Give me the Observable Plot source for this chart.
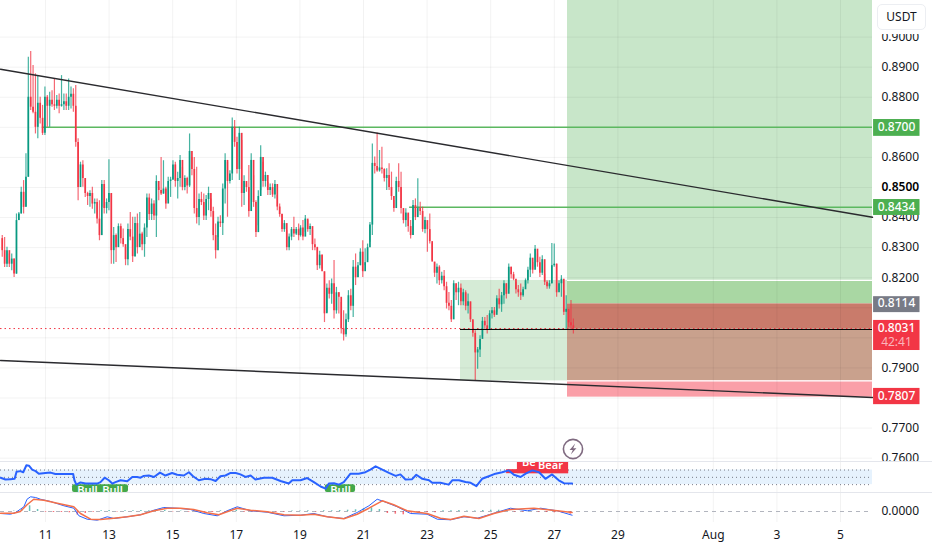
<!DOCTYPE html>
<html><head><meta charset="utf-8">
<script src="https://cdn.jsdelivr.net/npm/d3@7"></script>
<script src="https://cdn.jsdelivr.net/npm/@observablehq/plot@0.6"></script>
<style>
html,body{margin:0;background:#fff}
#c{position:relative;width:932px;height:550px;overflow:hidden;background:#fff;font-family:"Noto Sans",sans-serif}
#c svg.p{position:absolute;left:0}
.sep{position:absolute;left:0;width:932px;height:1px;background:#e4e6ec}
#cover{position:absolute;left:873px;top:0;width:59px;height:34px;background:#fff}
#usdt{position:absolute;left:877px;top:4px;width:47px;height:24px;line-height:24px;text-align:center;border:1px solid #eceef2;border-radius:5px;background:#fff;font-size:12px;color:#131722}
#bolt{position:absolute;left:562px;top:438px}
</style></head><body><div id="c"></div>
<script>
// Candles: [high, low, close] in 1/10000 USDT
const candlesEarly=[[8340,8268,8290],[8334,8234,8245],[8301,8234,8290],[8279,8234,8245],[8279,8223,8262],[8262,8201,8212],[8412,8212,8390],[8417,8390,8412],[8501,8412,8484],[8523,8412,8434],[8612,8434,8534],[8933,8534,8800],[8952,8756,8767],[8906,8745,8750],[8878,8678,8700],[8872,8662,8780],[8800,8711,8730],[8773,8673,8680],[8834,8673,8800],[8806,8700,8770],[8817,8700,8790],[8822,8767,8775],[8861,8756,8770],[8806,8761,8790],[8811,8745,8770],[8872,8767,8775],[8811,8756,8785],[8811,8756,8770],[8861,8756,8800],[8834,8761,8810],[8828,8750,8770],[8839,8634,8650],[8662,8456,8500],[8584,8528,8575],[8589,8501,8530],[8528,8467,8480],[8484,8440,8470],[8489,8434,8480],[8501,8428,8445],[8462,8412,8450],[8462,8379,8395],[8456,8323,8340],[8523,8434,8510],[8523,8412,8430],[8462,8412,8450],[8592,8423,8480],[8478,8245,8290],[8367,8245,8340],[8345,8251,8300],[8379,8301,8370],[8379,8312,8330],[8362,8301,8310],[8301,8240,8260],[8379,8240,8360],[8417,8323,8335],[8401,8251,8270],[8401,8268,8380],[8412,8279,8300],[8417,8323,8345],[8351,8290,8310],[8379,8268,8365],[8478,8334,8465],[8478,8390,8410],[8462,8390,8445],[8456,8390,8405],[8539,8334,8520],[8501,8456,8490],[8600,8473,8478],[8589,8478,8495],[8501,8428,8445],[8534,8456,8520],[8534,8467,8525],[8589,8523,8575],[8584,8501,8520],[8551,8462,8530],[8606,8501,8590],[8567,8489,8500],[8539,8489,8530],[8534,8478,8505],[8678,8500,8620],[8600,8539,8560],[8600,8412,8430],[8567,8379,8400],[8478,8373,8460],[8484,8440,8450],[8478,8390,8405],[8473,8390,8460],[8501,8423,8480],[8462,8401,8420],[8434,8323,8340],[8379,8262,8290],[8401,8334,8385],[8406,8367,8380],[8512,8340,8495],[8612,8445,8590],[8584,8401,8520],[8556,8512,8545],[8731,8523,8700],[8723,8634,8650],[8667,8545,8560],[8700,8523,8680],[8656,8434,8480],[8539,8440,8520],[8512,8484,8500],[8573,8401,8420],[8612,8523,8590],[8539,8434,8450],[8456,8334,8350],[8489,8373,8470],[8639,8489,8600],[8584,8501,8520],[8551,8501,8540],[8517,8473,8490],[8512,8473,8500],[8512,8467,8475],[8523,8462,8510],[8473,8423,8435],[8445,8401,8410],[8412,8351,8360],[8390,8351,8380],[8356,8290,8300],[8345,8290,8335],[8367,8323,8360],[8401,8334,8345],[8367,8340,8360],[8379,8323,8340]];
const candlesLate=[[8373,8335,8365],[8390,8323,8335],[8407,8351,8395],[8390,8351,8360],[8379,8340,8370],[8357,8290,8310],[8329,8290,8300],[8301,8224,8240],[8288,8229,8275],[8276,8229,8220],[8218,8051,8080],[8179,8085,8165],[8190,8129,8145],[8196,8112,8180],[8257,8063,8090],[8168,8079,8150],[8151,8079,8135],[8118,8013,8030],[8090,7990,8010],[8079,8002,8060],[8157,8051,8140],[8162,8090,8105],[8257,8068,8235],[8279,8174,8200],[8251,8201,8240],[8296,8240,8285],[8323,8201,8220],[8296,8240,8250],[8312,8257,8300],[8384,8318,8375],[8645,8340,8580],[8601,8545,8570],[8681,8551,8555],[8623,8551,8565],[8634,8545,8560],[8562,8518,8530],[8562,8490,8540],[8579,8490,8500],[8551,8457,8470],[8457,8418,8430],[8534,8468,8520],[8579,8484,8500],[8551,8412,8430],[8418,8379,8390],[8429,8368,8415],[8412,8351,8370],[8390,8329,8340],[8457,8340,8440],[8462,8390,8400],[8529,8429,8430],[8451,8407,8420],[8434,8351,8360],[8401,8346,8390],[8379,8285,8360],[8412,8312,8320],[8312,8257,8252],[8251,8201,8215],[8246,8179,8235],[8240,8174,8190],[8218,8179,8205],[8224,8157,8170],[8185,8096,8115],[8151,8090,8105],[8124,8051,8060],[8190,8140,8180],[8179,8124,8150],[8185,8107,8165],[8179,8107,8120],[8162,8107,8150],[8157,8090,8105],[8146,8079,8120],[8118,8051,8060],[8057,8002,8015],[8024,7857,7950],[7968,7896,7960],[8007,7935,7995],[8068,8002,8055],[8068,8029,8040],[8074,8013,8025],[8090,8057,8080],[8101,8063,8090],[8101,8068,8075],[8140,8085,8130],[8162,8096,8110],[8151,8085,8140],[8190,8112,8180],[8179,8129,8145],[8246,8162,8235],[8235,8196,8210],[8218,8190,8195],[8185,8146,8160],[8174,8135,8150],[8179,8124,8140],[8168,8135,8160],[8196,8174,8190],[8235,8179,8225],[8279,8201,8265],[8251,8212,8225],[8307,8235,8295],[8279,8235,8250],[8268,8201,8215],[8273,8207,8260],[8212,8174,8185],[8190,8162,8170],[8190,8162,8180],[8314,8179,8240],[8312,8235,8245],[8246,8135,8150],[8190,8157,8180],[8207,8135,8195],[8157,8074,8085],[8140,8029,8095],[8090,8035,8050],[8124,8029,8040],[8063,8013,8031]];
const firstOpen=8330;
const earlySpan=[9.64,18.96], lateSpan=[19.02,27.6];

const priceTicks=[.90,.89,.88,.87,.86,.85,.84,.83,.82,.81,.80,.79,.78,.77,.76];
const priceLabelTicks=[.90,.89,.88,.86,.84,.83,.82,.79,.77,.76];
const dayTicks=[11,13,15,17,19,21,23,25,27,29,32,34,36];
const dayLabels=["11","13","15","17","19","21","23","25","27","29","Aug","3","5"];

const xDomain=[9.585,37.006], priceDomain=[.7589,.91217];
const entryDay=24.05, positionDay=27.415;
const boxX1=[positionDay,positionDay,entryDay,positionDay,positionDay,positionDay];
const boxX2=[xDomain[1],xDomain[1],positionDay,xDomain[1],xDomain[1],xDomain[1]];
const boxTop=[priceDomain[1],.8191,.8191,.8113,.8031,.7857];
const boxBottom=[.8191,.8113,.7857,.8031,.7857,.7803];
const boxFill=["#c8e6c9","#a9d7a3","#d5ebd6","#c97b6b","#c9a18d","#fa9fa8"];
const whiteEdges=[.8191,.7857];

const upperTrendDays=[9.585,37.006], upperTrendPrices=[.8893,.8401];
const lowerTrendDays=[9.585,37.006], lowerTrendPrices=[.7925,.7802];
const levelPrices=[.8700,.8434], levelStartDays=[10.9,22.45];
const lastPrice=.8031, entryPrice=.8028;

const tagPrices=[.8700,.8434,.8114,.8031,.7807];
const tagTexts=["0.8700","0.8434","0.8114","0.8031","0.7807"];
const tagFills=["#4caf50","#4caf50","#787b86","#f23645","#f23645"];
const tagTops=[.8726,.8460,.8137,.8058,.7832];
const tagBottoms=[.8670,.8407,.8084,.7958,.7778];
const countdownText="42:41", countdownPrice=.7985;
const tagDays=[37.04,38.5], tagMiddle=37.76;

const rsiDays=[9.59,9.74,9.90,10.03,10.09,10.21,10.30,10.40,10.48,10.58,10.69,10.79,11.00,11.16,11.31,11.58,11.87,11.91,11.97,12.10,12.26,12.42,12.63,12.73,12.86,12.99,13.10,13.20,13.36,13.57,13.73,13.88,13.99,14.09,14.25,14.41,14.60,14.77,14.98,15.14,15.35,15.51,15.64,15.82,16.03,16.19,16.35,16.50,16.66,16.82,16.98,17.13,17.29,17.45,17.60,17.87,18.13,18.39,18.65,18.76,19.02,19.23,19.44,19.65,19.81,19.91,20.07,20.23,20.38,20.59,20.85,21.06,21.22,21.38,21.59,21.80,22.01,22.16,22.32,22.53,22.66,22.85,23.06,23.16,23.42,23.68,23.79,24.00,24.21,24.37,24.55,24.73,24.94,25.15,25.36,25.57,25.73,25.94,26.10,26.31,26.52,26.72,26.93,27.14,27.30,27.56];
const rsiValues=[49,44,45,46,65,67,64,83,82,71,67,60,62,63,59,59,59,42,30,36,33,33,33,37,49,42,33,37,42,39,51,51,49,54,55,51,63,55,62,57,55,64,53,42,46,45,40,53,55,62,62,58,51,55,44,49,49,40,33,42,42,48,37,25,19,33,34,30,37,60,60,64,71,80,71,62,54,58,44,45,57,46,42,35,35,30,42,42,37,35,26,46,53,60,64,69,57,51,60,69,64,46,58,42,34,33];
const rsiDomain=[8.5,90.6], rsiLevels=[70,50,30];
const bullStart=[11.85,19.8], bullEnd=[13.61,20.75], bullTextDays=[12.32,13.11,20.28], bullText="Bull";
const bearStart=[25.5,25.84], bearEnd=[27.45,27.45], bearTop=[71,90.6], bearBottom=[60,60], bearTextDays=[26.2,26.88], bearTextValues=[90,83], bearText=["Be","Bear"];

const macdDays=[9.59,9.90,10.06,10.21,10.32,10.42,10.53,10.69,10.84,11.16,11.58,11.89,12.05,12.31,12.63,12.94,13.15,13.57,13.99,14.41,14.72,15.14,15.56,15.98,16.40,16.71,17.03,17.45,17.97,18.50,19.02,19.44,19.86,20.38,20.80,21.17,21.43,21.64,22.06,22.48,23.00,23.32,23.74,24.16,24.58,25.00,25.62,26.15,26.57,27.09,27.56];
const macdValues=[-14,-19,-7,16,33,86,103,98,86,70,40,23,-30,-54,-61,-37,-49,-37,-23,9,28,23,14,-14,-30,5,33,5,-5,-30,-26,-14,-37,-49,-7,40,86,70,33,-14,-19,-54,-58,-37,-47,-19,23,5,23,5,-26];
const signalDays=[9.59,10.00,10.21,10.42,10.63,10.95,11.37,11.89,12.10,12.42,12.73,13.15,13.57,13.99,14.41,14.83,15.25,15.66,16.08,16.45,16.71,17.03,17.45,17.97,18.50,19.02,19.44,19.86,20.38,20.80,21.17,21.59,21.95,22.37,23.00,23.42,23.74,24.16,24.63,25.10,25.62,26.36,27.09,27.56];
const signalValues=[-12,-12,0,47,86,79,58,33,-14,-54,-56,-47,-37,-23,5,23,23,14,-9,-23,-2,23,9,-2,-23,-26,-19,-37,-51,-19,23,75,47,5,-14,-47,-56,-33,-49,-14,14,23,5,-7];
const histFirstDay=9.75, histStep=.25;
const histValues=[0,3,14,40,14,-5,-7,-7,-9,-25,-14,-5,5,7,-3,5,5,7,5,7,7,-3,3,-5,-7,-7,-7,5,5,9,-5,-5,-3,-3,-5,-5,3,3,5,-3,5,5,7,9,12,19,26,14,-14,-19,-23,-12,-5,-7,-9,5,5,7,3,3,7,9,9,5,-5,-5,3,-5,-7,-9,-12,-19];
const macdDomain=[-77,133];

// ---------- tables for the marks ----------
const dayOf=(i,n,s)=>s[0]+(s[1]-s[0])*i/(n-1);
const all=[...candlesEarly.map((r,i)=>[dayOf(i,candlesEarly.length,earlySpan),...r]),...candlesLate.map((r,i)=>[dayOf(i,candlesLate.length,lateSpan),...r])];
const candles=all.map((r,i)=>{const o=i?all[i-1][3]:firstOpen;return{day:r[0],high:r[1]/1e4,low:r[2]/1e4,close:r[3]/1e4,open:o/1e4,col:r[3]>=o?"#089981":"#f23645"}});
const boxes=boxFill.map((f,i)=>({x1:boxX1[i],x2:boxX2[i],y1:boxTop[i],y2:boxBottom[i],f}));
const tags=tagTexts.map((t,i)=>({t,p:tagPrices[i],f:tagFills[i],top:tagTops[i],bottom:tagBottoms[i]}));
const trend=(d,p)=>d.map((x,i)=>({x,y:p[i]}));
const rsi=rsiDays.map((x,i)=>({x,y:rsiValues[i]}));
const macd=macdDays.map((x,i)=>({x,y:macdValues[i]/1e4}));
const signal=signalDays.map((x,i)=>({x,y:signalValues[i]/1e4}));
const hist=histValues.map((v,i)=>({x:histFirstDay+i*histStep,y:v/1e4}));

const font='"Noto Sans",sans-serif', ink="#131722", fmt=d3.format(".4f");
const gridX=Plot.ruleX(dayTicks,{stroke:"#000",strokeOpacity:.05});
const base={width:932,marginLeft:0,marginRight:60,marginTop:0,style:{background:"transparent",fontFamily:font,fontSize:"12px"},className:"pl"};
const put=(svg,top)=>{svg.classList.add("p");svg.style.top=top+"px";svg.style.maxWidth="none";document.getElementById("c").appendChild(svg)};

const main=Plot.plot({...base,height:461,marginBottom:0,x:{domain:xDomain,axis:null},y:{domain:priceDomain,axis:null},marks:[
  Plot.rect(boxes,{x1:"x1",x2:"x2",y1:"y1",y2:"y2",fill:"f"}),
  Plot.ruleY(whiteEdges,{x1:positionDay,x2:xDomain[1],stroke:"#fff",strokeWidth:1.2}),
  gridX,
  Plot.ruleY(priceTicks,{stroke:"#000",strokeOpacity:.05}),
  Plot.axisY({anchor:"right",ticks:priceLabelTicks,tickSize:0,tickPadding:9,tickFormat:fmt,fill:ink,label:null,fontSize:12}),
  Plot.axisY({anchor:"right",ticks:[.85],tickSize:0,tickPadding:9,tickFormat:fmt,fill:"#000",fontWeight:600,label:null,fontSize:12}),
  Plot.ruleY(levelPrices,{x1:levelStartDays,x2:xDomain[1],stroke:"#5cb860",strokeWidth:1.5}),
  Plot.ruleY([lastPrice],{stroke:"#f23645",strokeDasharray:"1.5,3",strokeWidth:1}),
  Plot.ruleX(candles,{x:"day",y1:"low",y2:"high",stroke:"col",strokeWidth:1.2,strokeOpacity:.75}),
  Plot.ruleX(candles,{x:"day",y1:"open",y2:"close",stroke:"col",strokeWidth:1.7}),
  Plot.ruleY([entryPrice],{x1:entryDay,x2:xDomain[1],stroke:"#000",strokeWidth:1}),
  Plot.line(trend(upperTrendDays,upperTrendPrices),{x:"x",y:"y",stroke:"#2a2a2e",strokeWidth:1.4}),
  Plot.line(trend(lowerTrendDays,lowerTrendPrices),{x:"x",y:"y",stroke:"#2a2a2e",strokeWidth:1.4}),
  Plot.rect(tags,{x1:tagDays[0],x2:tagDays[1],y1:"top",y2:"bottom",fill:"f"}),
  Plot.text(tags,{x:tagMiddle,y:"p",text:"t",fill:"#fff",fontWeight:500,fontSize:12}),
  Plot.text([countdownText],{x:tagMiddle,y:countdownPrice,text:d=>d,fill:"#fbb4ba",fontSize:12})
]});
put(main,0);

const rsiPlot=Plot.plot({...base,height:30,marginBottom:0,x:{domain:xDomain,axis:null},y:{domain:rsiDomain,axis:null},marks:[
  gridX,
  Plot.rect([0],{x1:xDomain[0],x2:xDomain[1],y1:rsiLevels[0],y2:rsiLevels[2],fill:"#e6f2fd"}),
  Plot.ruleY(rsiLevels,{stroke:"#787b86",strokeDasharray:"1,3",strokeWidth:1}),
  Plot.rect(bullStart.map((s,i)=>({s,e:bullEnd[i]})),{x1:"s",x2:"e",y1:rsiLevels[2],y2:rsiDomain[0],fill:"#43a84a",rx:2}),
  Plot.text(bullTextDays,{x:d=>d,y:14,text:()=>bullText,fill:"#fff",fontSize:11,fontWeight:600}),
  Plot.rect(bearStart.map((s,i)=>({s,e:bearEnd[i],t:bearTop[i],b:bearBottom[i]})),{x1:"s",x2:"e",y1:"b",y2:"t",fill:"#f23645"}),
  Plot.text(bearText.map((t,i)=>({t,x:bearTextDays[i],y:bearTextValues[i]})),{x:"x",y:"y",text:"t",fill:"#fff",fontSize:11,fontWeight:600}),
  Plot.line(rsi,{x:"x",y:"y",stroke:"#2962ff",strokeWidth:2})
]});
put(rsiPlot,462);

const macdPlot=Plot.plot({...base,height:58,marginBottom:28,x:{domain:xDomain,axis:null},y:{domain:macdDomain.map(v=>v/1e4),axis:null},marks:[
  gridX,
  Plot.axisX({ticks:dayTicks,tickSize:0,tickPadding:8,tickFormat:d=>dayLabels[dayTicks.indexOf(d)],label:null,fill:ink,fontSize:12}),
  Plot.axisY({anchor:"right",ticks:[0],tickSize:0,tickPadding:9,tickFormat:fmt,fill:ink,label:null,fontSize:12}),
  Plot.ruleY([0],{stroke:"#b2b5be",strokeDasharray:"4,4"}),
  Plot.ruleX(hist,{x:"x",y1:0,y2:"y",stroke:d=>d.y>=0?"#26a69a":"#f23645",strokeWidth:1.5,strokeOpacity:.7}),
  Plot.line(macd,{x:"x",y:"y",stroke:"#2962ff",strokeWidth:1}),
  Plot.line(signal,{x:"x",y:"y",stroke:"#f4704a",strokeWidth:1.5})
]});
put(macdPlot,492);

const c=document.getElementById("c");
[461,492].forEach(t=>{const d=document.createElement("div");d.className="sep";d.style.top=t+"px";c.appendChild(d)});
const cov=document.createElement("div");cov.id="cover";c.appendChild(cov);
const u=document.createElement("div");u.id="usdt";u.textContent="USDT";c.appendChild(u);
const b=document.createElement("div");b.id="bolt";
b.innerHTML='<svg width="22" height="22" viewBox="0 0 22 22"><circle cx="11" cy="11" r="9.6" fill="#fff" stroke="#7f6a80" stroke-width="1.6"/><path d="M13.2 5.5 7.6 12h3.2l-2 4.6 5.6-6.4h-3.2z" fill="#7f6a80"/></svg>';
c.appendChild(b);
</script></body></html>
